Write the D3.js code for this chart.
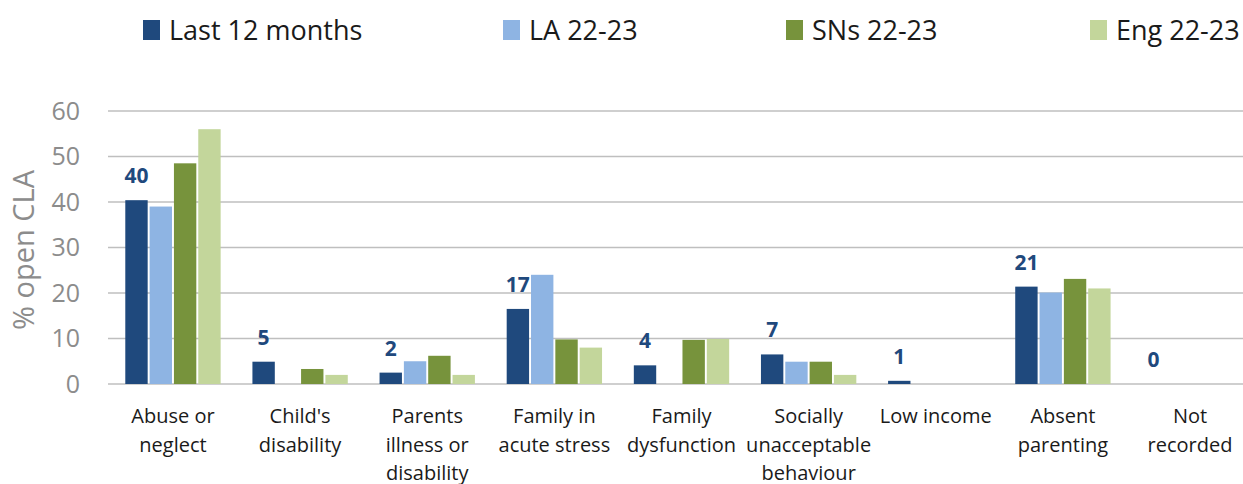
<!DOCTYPE html>
<html><head><meta charset="utf-8">
<script src="https://cdn.jsdelivr.net/npm/d3@7"></script>
<style>body{margin:0;background:#fff;} svg{display:block;font-family:"Open Sans",sans-serif;}</style>
</head><body>
<svg id="c" width="1243" height="484"></svg>
<script>
const categories = [["Abuse or","neglect"],["Child's","disability"],["Parents","illness or","disability"],["Family in","acute stress"],["Family","dysfunction"],["Socially","unacceptable","behaviour"],["Low income"],["Absent","parenting"],["Not","recorded"]];
const seriesNames = ["Last 12 months","LA 22-23","SNs 22-23","Eng 22-23"];
const last12 = [40.4,4.9,2.5,16.5,4.1,6.5,0.7,21.4,0];
const la2223 = [39.0,0,5.0,24.0,0,4.9,0,20.1,0];
const sns2223 = [48.5,3.3,6.2,9.8,9.7,4.9,0,23.1,0];
const eng2223 = [56.0,2.0,2.0,8.0,9.9,2.0,0,21.0,0];
const valueLabels = ["40","5","2","17","4","7","1","21","0"];
const yTicks = [0,10,20,30,40,50,60];
const colors = ["#1F497D","#8EB4E3","#77933C","#C3D69B"];

const series = [last12, la2223, sns2223, eng2223];
const svg = d3.select("#c");
const catKeys = categories.map(c=>c.join(" "));
const x = d3.scaleBand().domain(catKeys).range([109.4,1253.6]).paddingInner(0.25).paddingOuter(0.125);
const xs = d3.scaleBand().domain(seriesNames).range([0,x.bandwidth()]).paddingInner(0.08);
const y = d3.scaleLinear().domain([0,60]).range([384,111]);

// gridlines
svg.append("g").selectAll("line").data(yTicks).join("line")
  .attr("x1",108).attr("x2",1243).attr("y1",d=>y(d)).attr("y2",d=>y(d))
  .attr("stroke","#BFBFBF").attr("stroke-width",1.6);

// y tick labels
svg.append("g").selectAll("text").data(yTicks).join("text")
  .attr("x",80).attr("y",d=>y(d)).attr("dy","0.35em").attr("text-anchor","end")
  .attr("font-size",25).attr("fill","#8C8C8C").text(d=>d);

svg.append("text").attr("transform","translate(34,250) rotate(-90)").attr("text-anchor","middle")
  .attr("font-size",29).attr("fill","#8C8C8C").text("% open CLA");

// bars
series.forEach((vals,si)=>{
  svg.append("g").selectAll("rect").data(vals).join("rect")
    .attr("x",(d,i)=>x(catKeys[i])+xs(seriesNames[si]))
    .attr("width",xs.bandwidth())
    .attr("y",d=>y(d)).attr("height",d=>y(0)-y(d))
    .attr("fill",colors[si]);
});

// value labels
svg.append("g").selectAll("text").data(last12).join("text")
  .attr("x",(d,i)=>x(catKeys[i])+xs(seriesNames[0])+xs.bandwidth()/2)
  .attr("y",d=>y(d)-17).attr("text-anchor","middle")
  .attr("font-size",21).attr("font-weight","bold").attr("fill","#1F497D")
  .text((d,i)=>valueLabels[i]);

// category labels
const cl = svg.append("g").selectAll("text").data(categories).join("text")
  .attr("x",(d,i)=>x(catKeys[i])+x.bandwidth()/2).attr("y",423)
  .attr("text-anchor","middle").attr("font-size",20).attr("fill","#1A1A1A");
cl.selectAll("tspan").data(d=>d).join("tspan")
  .attr("x",function(){return this.parentNode.getAttribute("x");})
  .attr("dy",(d,i)=>i===0?0:28.5).text(d=>d);

// legend
const legX = [143,503,786,1090];
const lg = svg.append("g").selectAll("g").data(seriesNames).join("g")
  .attr("transform",(d,i)=>`translate(${legX[i]},0)`);
lg.append("rect").attr("x",0).attr("y",20).attr("width",17).attr("height",20).attr("fill",(d,i)=>colors[i]);
lg.append("text").attr("x",26).attr("y",40).attr("font-size",27).attr("fill","#1A1A1A").text(d=>d);
</script>
</body></html>
